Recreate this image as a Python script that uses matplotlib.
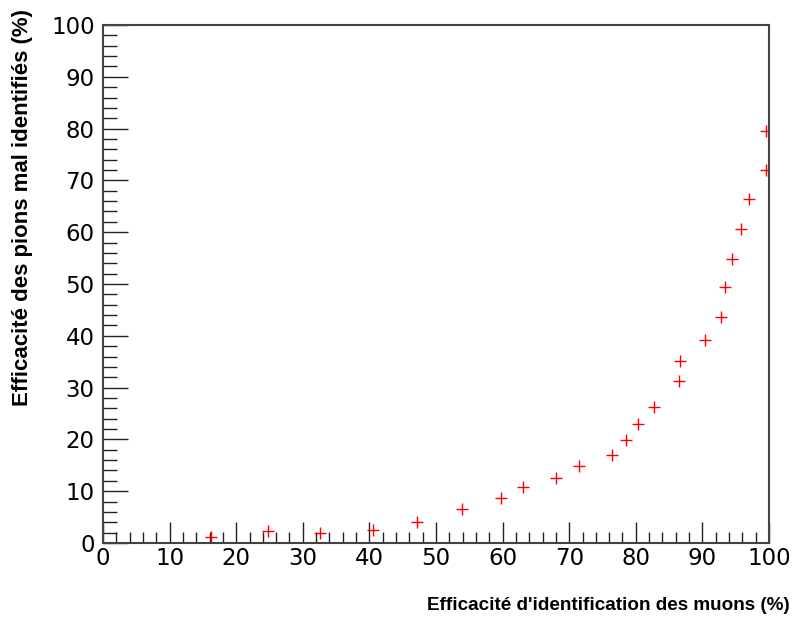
import matplotlib
matplotlib.use("Agg")
import matplotlib.pyplot as plt
from matplotlib.ticker import MultipleLocator

muon_eff = [16.2, 24.8, 32.6, 40.5, 47.1, 53.9, 59.7, 63.0, 68.0, 71.5, 76.4, 78.6,
            80.4, 82.7, 86.5, 86.6, 90.4, 92.8, 93.4, 94.5, 95.8, 97.0, 99.6, 99.5]
pion_misid = [1.2, 2.3, 2.0, 2.6, 4.0, 6.5, 8.6, 10.9, 12.6, 14.9, 17.0, 19.9,
              23.0, 26.2, 31.2, 35.1, 39.2, 43.6, 49.4, 54.8, 60.7, 66.5, 72.1, 79.6]
xlabel = "Efficacité d'identification des muons (%)"
ylabel = "Efficacité des pions mal identifiés (%)"

fig = plt.figure(figsize=(7.94, 6.17), dpi=100)
ax = fig.add_axes([103/794, 74/617, 666/794, 518/617])
ax.plot(muon_eff, pion_misid, linestyle='none', marker='+', color='#ff0000',
        markersize=8, markeredgewidth=1.0)
ax.set_xlim(0, 100)
ax.set_ylim(0, 100)
ax.xaxis.set_major_locator(MultipleLocator(10))
ax.xaxis.set_minor_locator(MultipleLocator(2))
ax.yaxis.set_major_locator(MultipleLocator(10))
ax.yaxis.set_minor_locator(MultipleLocator(2))
ax.tick_params(axis='both', which='major', direction='in', length=15, width=1,
               labelsize=16.5, color='#222222')
ax.tick_params(axis='both', which='minor', direction='in', length=8, width=1, color='#222222')
ax.tick_params(axis='x', which='major', pad=3)
ax.tick_params(axis='y', which='major', pad=6)
ax.tick_params(axis='y', which='major', length=18)
ax.tick_params(axis='y', which='minor', length=10)
for s in ax.spines.values():
    s.set_color('#444444')
    s.set_linewidth(1.5)

fig.text(790/794, 1 - 605/617, xlabel, ha='right', va='center', fontsize=13.6,
         fontweight='bold', family='Liberation Sans')
fig.text(23/794, 1 - 208/617, ylabel, ha='center', va='center', rotation=90,
         fontsize=16, fontweight='bold', family='Liberation Sans')

fig.savefig("out.png", dpi=100)
